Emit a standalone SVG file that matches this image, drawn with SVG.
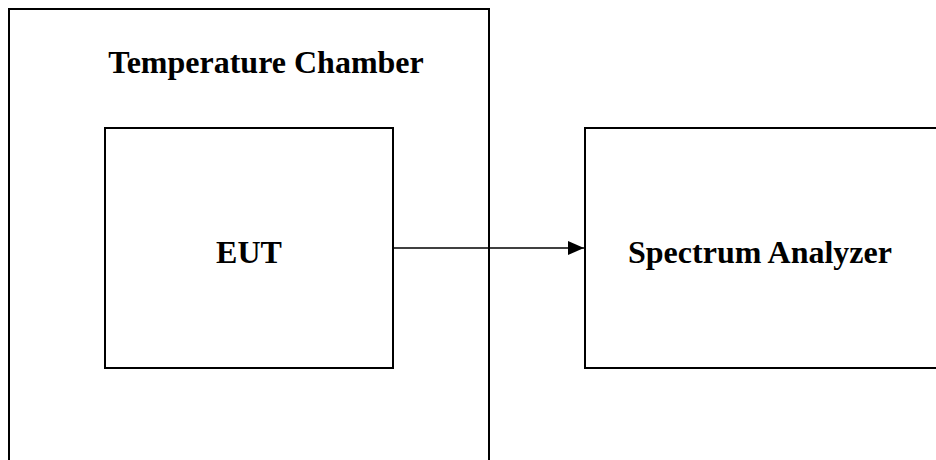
<svg xmlns="http://www.w3.org/2000/svg" width="936" height="460" viewBox="0 0 936 460">
<defs>
<style>
.box{fill:none;stroke:#000;stroke-width:2}
.lbl{font-family:"Liberation Serif","Times New Roman",serif;font-weight:bold;font-size:32px;fill:#000}
.conn{stroke:#000;stroke-width:1.5;fill:none}
</style>
<marker id="ah" markerWidth="16" markerHeight="14" refX="16" refY="7" orient="auto" markerUnits="userSpaceOnUse">
<path d="M0,0 L16,7 L0,14 Z" fill="#000"/>
</marker>
</defs>
<g id="chamber">
<rect class="box" x="9" y="9" width="480" height="480"/>
<text class="lbl" x="266" y="73" text-anchor="middle">Temperature Chamber</text>
</g>
<g id="eut">
<rect class="box" x="105" y="128" width="288" height="240"/>
<text class="lbl" x="249" y="263" text-anchor="middle">EUT</text>
</g>
<g id="analyzer">
<rect class="box" x="585" y="128" width="360" height="240"/>
<text class="lbl" x="760" y="263" text-anchor="middle">Spectrum Analyzer</text>
</g>
<g id="connectors">
<line class="conn" x1="393" y1="248" x2="584" y2="248" marker-end="url(#ah)"/>
</g>
</svg>
